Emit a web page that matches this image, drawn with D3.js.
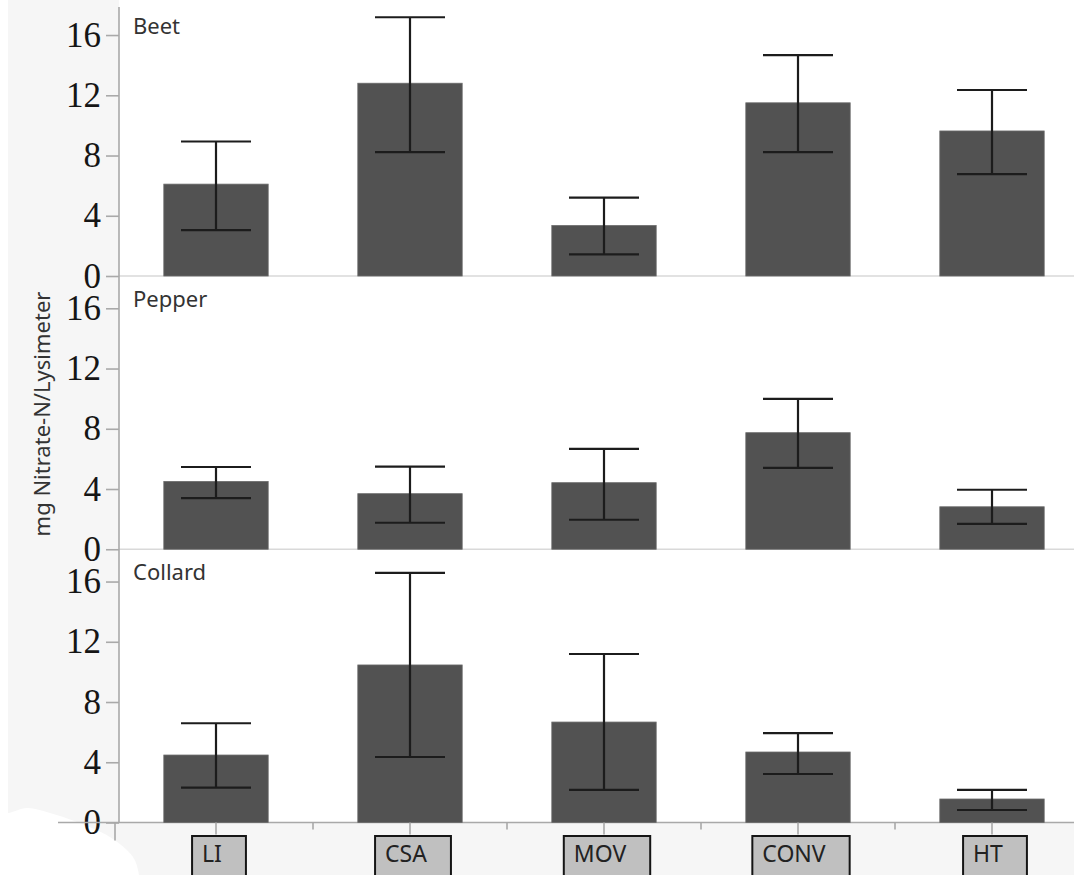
<!DOCTYPE html>
<html>
<head>
<meta charset="utf-8">
<script src="https://cdn.jsdelivr.net/npm/d3@7"></script>
<style>
  html, body { margin: 0; padding: 0; background: #ffffff; }
  svg { display: block; }
</style>
</head>
<body>
<script>
// Nitrate-N leached per lysimeter, by production system, for three crops
const categories = ["LI", "CSA", "MOV", "CONV", "HT"];
const crops = ["Beet", "Pepper", "Collard"];

const beetMean  = [6.1, 12.8, 3.35, 11.5, 9.63];
const beetLow   = [3.05, 8.23, 1.44, 8.23, 6.77];
const beetHigh  = [8.93, 17.18, 5.2, 14.67, 12.35];

const pepperMean = [4.5, 3.69, 4.42, 7.74, 2.82];
const pepperLow  = [3.4, 1.76, 1.96, 5.41, 1.69];
const pepperHigh = [5.46, 5.48, 6.67, 9.99, 3.95];

const collardMean = [4.48, 10.46, 6.67, 4.68, 1.56];
const collardLow  = [2.31, 4.35, 2.16, 3.22, 0.83];
const collardHigh = [6.59, 16.57, 11.19, 5.94, 2.16];

const yTickValues = [0, 4, 8, 12, 16];
const yTitle = "mg Nitrate-N/Lysimeter";

const panels = [
  { name: crops[0], mean: beetMean, low: beetLow, high: beetHigh },
  { name: crops[1], mean: pepperMean, low: pepperLow, high: pepperHigh },
  { name: crops[2], mean: collardMean, low: collardLow, high: collardHigh }
];

const W = 1074, H = 875;
const axisX = 119;
const panelTop0 = 2.75, panelH = 273.25;
const yMax = panelH / 15.06;
const xAxisY = panelTop0 + panelH * 3;

const svg = d3.select("body").append("svg")
  .attr("width", W).attr("height", H)
  .attr("viewBox", `0 0 ${W} ${H}`);

// frame backgrounds: grey around the plot, white inside
svg.append("rect").attr("x", 0).attr("y", 0).attr("width", W).attr("height", H).attr("fill", "#ffffff");
svg.append("rect").attr("x", 8).attr("y", 0).attr("width", axisX - 8).attr("height", H).attr("fill", "#f6f6f6");
svg.append("rect").attr("x", 8).attr("y", xAxisY).attr("width", W - 8).attr("height", H - xAxisY).attr("fill", "#f6f6f6");

// white patch in the lower left corner
const blob = [[0, 812], [8, 813], [27, 808], [50, 813], [77, 822], [110, 837], [133, 857], [139, 875], [139, 880], [0, 880]];
svg.append("path")
  .attr("d", d3.line().curve(d3.curveCatmullRom)(blob))
  .attr("fill", "#ffffff");

const x = d3.scaleBand()
  .domain(categories)
  .range([axisX, axisX + 5 * 194])
  .paddingInner(0.462)
  .paddingOuter(0.231);

const capHalf = 35;

panels.forEach((p, i) => {
  const top = panelTop0 + i * panelH;
  const bottom = top + panelH;
  const y = d3.scaleLinear().domain([0, yMax]).range([bottom, top]);

  const g = svg.append("g");

  // panel baseline / separator
  g.append("line")
    .attr("x1", axisX).attr("x2", W)
    .attr("y1", y(0)).attr("y2", y(0))
    .attr("stroke", i === 2 ? "#a9a9a9" : "#d9d9d9")
    .attr("stroke-width", 1.6);

  // bars
  g.selectAll("rect.bar").data(categories).join("rect")
    .attr("class", "bar")
    .attr("x", d => x(d))
    .attr("width", x.bandwidth())
    .attr("y", (d, k) => y(p.mean[k]))
    .attr("height", (d, k) => y(0) - y(p.mean[k]))
    .attr("fill", "#525252")
    .attr("stroke", "#6a6a6a")
    .attr("stroke-width", 0.8);

  // error bars
  const eb = g.selectAll("g.err").data(categories).join("g").attr("class", "err")
    .attr("stroke", "#1c1c1c").attr("stroke-width", 2.2);
  eb.append("line")
    .attr("x1", d => x(d) + x.bandwidth() / 2).attr("x2", d => x(d) + x.bandwidth() / 2)
    .attr("y1", (d, k) => y(p.high[k])).attr("y2", (d, k) => y(p.low[k]));
  eb.append("line")
    .attr("x1", d => x(d) + x.bandwidth() / 2 - capHalf).attr("x2", d => x(d) + x.bandwidth() / 2 + capHalf)
    .attr("y1", (d, k) => y(p.high[k])).attr("y2", (d, k) => y(p.high[k]));
  eb.append("line")
    .attr("x1", d => x(d) + x.bandwidth() / 2 - capHalf).attr("x2", d => x(d) + x.bandwidth() / 2 + capHalf)
    .attr("y1", (d, k) => y(p.low[k])).attr("y2", (d, k) => y(p.low[k]));

  // y axis
  const ax = svg.append("g")
    .attr("transform", `translate(${axisX},0)`)
    .call(d3.axisLeft(y).tickValues(yTickValues).tickSize(13).tickPadding(5).tickFormat(d3.format("d")));
  ax.select(".domain").remove();
  ax.selectAll(".tick line").attr("stroke", "#a9a9a9").attr("stroke-width", 1.6);
  ax.selectAll(".tick text")
    .attr("font-family", "'Liberation Serif', 'Times New Roman', serif")
    .attr("font-size", 35)
    .attr("fill", "#151515");

  // crop label
  svg.append("text")
    .attr("x", 133).attr("y", top + 31)
    .attr("font-family", "'Noto Sans', sans-serif")
    .attr("font-size", 22)
    .attr("fill", "#333333")
    .text(p.name);
});

// vertical axis line
svg.append("line")
  .attr("x1", axisX).attr("x2", axisX)
  .attr("y1", 7).attr("y2", xAxisY)
  .attr("stroke", "#a9a9a9").attr("stroke-width", 1.6);

// x axis line extends to the left of the frame, with a small end mark
svg.append("line")
  .attr("x1", 58).attr("x2", axisX)
  .attr("y1", xAxisY).attr("y2", xAxisY)
  .attr("stroke", "#a9a9a9").attr("stroke-width", 1.6);
svg.append("line")
  .attr("x1", 115).attr("x2", 115)
  .attr("y1", xAxisY).attr("y2", xAxisY + 18)
  .attr("stroke", "#a9a9a9").attr("stroke-width", 1.6);

// major ticks at category centres, minor ticks between categories
svg.selectAll("line.major").data(categories).join("line")
  .attr("class", "major")
  .attr("x1", d => x(d) + x.bandwidth() / 2).attr("x2", d => x(d) + x.bandwidth() / 2)
  .attr("y1", xAxisY).attr("y2", xAxisY + 12)
  .attr("stroke", "#a9a9a9").attr("stroke-width", 1.6);
svg.selectAll("line.minor").data(categories.slice(1)).join("line")
  .attr("class", "minor")
  .attr("x1", d => x(d) - x.step() * x.paddingInner() / 2)
  .attr("x2", d => x(d) - x.step() * x.paddingInner() / 2)
  .attr("y1", xAxisY).attr("y2", xAxisY + 7)
  .attr("stroke", "#a9a9a9").attr("stroke-width", 1.6);

// boxed category labels
const labelTop = 836;
categories.forEach(c => {
  const cx = x(c) + x.bandwidth() / 2 - 4;
  const g = svg.append("g");
  const box = g.append("rect");
  const t = g.append("text")
    .attr("font-family", "'Noto Sans', sans-serif")
    .attr("font-size", 23)
    .attr("fill", "#222222")
    .attr("text-anchor", "middle")
    .attr("x", cx).attr("y", labelTop + 26)
    .text(c);
  const w = t.node().getComputedTextLength();
  box.attr("x", cx - w / 2 - 10).attr("y", labelTop)
    .attr("width", w + 34).attr("height", 60)
    .attr("fill", "#c0c0c0")
    .attr("stroke", "#151515").attr("stroke-width", 2);
});

// y axis title
svg.append("text")
  .attr("transform", `translate(50,414) rotate(-90)`)
  .attr("text-anchor", "middle")
  .attr("font-family", "'Noto Sans', sans-serif")
  .attr("font-size", 22)
  .attr("fill", "#333333")
  .text(yTitle);
</script>
</body>
</html>
